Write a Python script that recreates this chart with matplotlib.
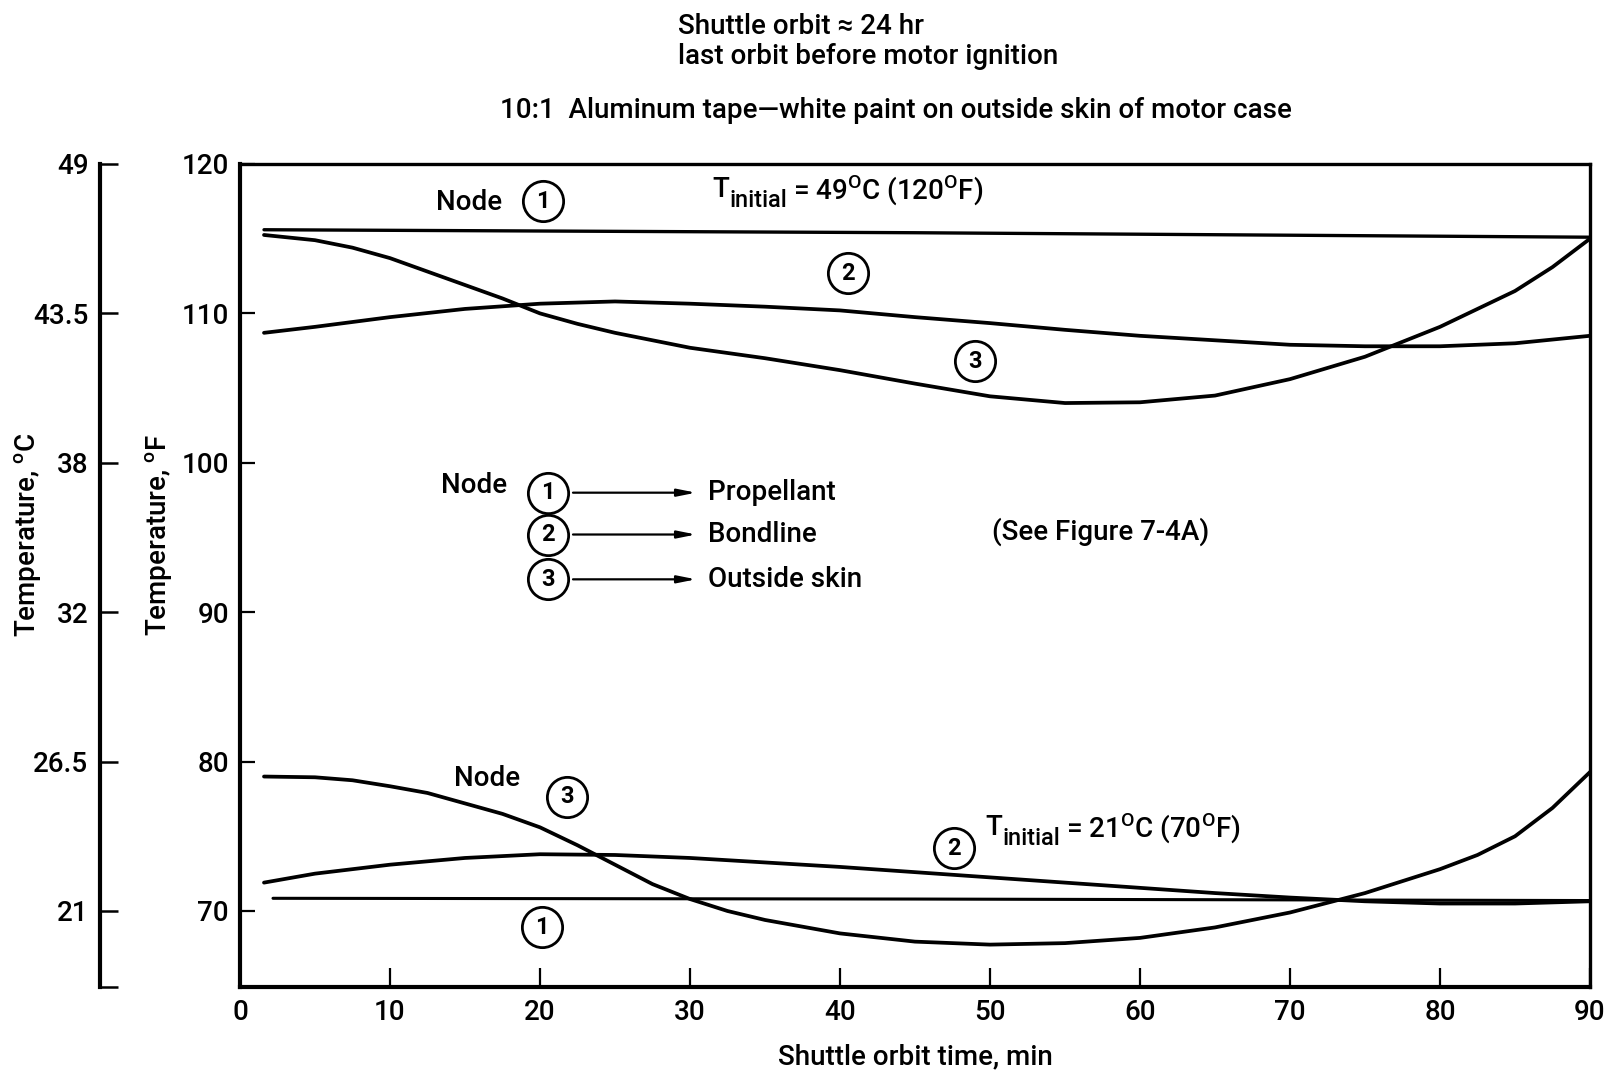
import matplotlib
matplotlib.use("Agg")
import matplotlib.pyplot as plt

plt.rcParams['font.family'] = ['Roboto', 'Liberation Sans', 'DejaVu Sans']
plt.rcParams['font.weight'] = 'medium'
plt.rcParams['axes.labelweight'] = 'medium'
plt.rcParams['mathtext.fontset'] = 'custom'
plt.rcParams['mathtext.rm'] = 'Roboto:medium'

# time axis (min) where curves were read
t_grid = [1.6, 5, 10, 15, 20, 25, 30, 35, 40, 45, 50, 55, 60, 65, 70, 75, 80, 85, 90]

# T_initial = 49 C (120 F)
hot_t1 = [1.6, 45, 90]
hot_node1 = [115.6, 115.4, 115.1]
hot_node2 = [108.7, 109.1, 109.75, 110.3, 110.65, 110.8, 110.65, 110.45, 110.2, 109.75,
             109.35, 108.9, 108.5, 108.2, 107.9, 107.8, 107.8, 108.0, 108.5]
hot_t3 = [1.6, 5, 7.5, 10, 12.5, 15, 17.5, 20, 22.5, 25, 30, 35, 40, 45, 50, 55, 60,
          65, 70, 75, 80, 85, 87.5, 90]
hot_node3 = [115.25, 114.9, 114.4, 113.7, 112.8, 111.9, 111.0, 110.0, 109.3, 108.7, 107.7,
             107.0, 106.2, 105.3, 104.45, 104.0, 104.05, 104.5, 105.6, 107.1, 109.1,
             111.5, 113.1, 115.0]

# T_initial = 21 C (70 F)
cold_t1 = [2.2, 45, 90]
cold_node1 = [70.85, 70.8, 70.7]
cold_node2 = [71.9, 72.5, 73.1, 73.55, 73.8, 73.75, 73.55, 73.25, 72.95, 72.6,
              72.25, 71.9, 71.55, 71.2, 70.9, 70.65, 70.5, 70.5, 70.65]
cold_t3 = [1.6, 5, 7.5, 10, 12.5, 15, 17.5, 20, 22.5, 25, 27.5, 30, 32.5, 35, 40, 45,
           50, 55, 60, 65, 70, 75, 80, 82.5, 85, 87.5, 90]
cold_node3 = [79.0, 78.95, 78.75, 78.35, 77.9, 77.2, 76.5, 75.6, 74.4, 73.1, 71.8,
              70.8, 70.0, 69.4, 68.5, 67.95, 67.75, 67.85, 68.2, 68.9, 69.9, 71.2,
              72.8, 73.75, 75.0, 76.9, 79.3]

x_ticks = [0, 10, 20, 30, 40, 50, 60, 70, 80, 90]
f_ticks = [70, 80, 90, 100, 110, 120]
c_labels = ['21', '26.5', '32', '38', '43.5', '49']
node_names = ['Propellant', 'Bondline', 'Outside skin']

FS = 20
W, H = 1609, 1070
fig = plt.figure(figsize=(W / 100, H / 100), dpi=100)

left, right, top, bottom = 240, 1590, 164, 987
rect = [left / W, 1 - bottom / H, (right - left) / W, (bottom - top) / H]
ax = fig.add_axes(rect)
ylo = 120 - (bottom - top) / 14.94

lw = 2.7
ax.plot(hot_t1, hot_node1, color='black', lw=2.4, solid_capstyle='round')
ax.plot(t_grid, hot_node2, color='black', lw=lw, solid_capstyle='round')
ax.plot(hot_t3, hot_node3, color='black', lw=lw, solid_capstyle='round')
ax.plot(cold_t1, cold_node1, color='black', lw=2.2, solid_capstyle='round')
ax.plot(t_grid, cold_node2, color='black', lw=lw, solid_capstyle='round')
ax.plot(cold_t3, cold_node3, color='black', lw=lw, solid_capstyle='round')

ax.set_xlim(0, 90)
ax.set_ylim(ylo, 120)
ax.set_xticks(x_ticks)
ax.set_yticks(f_ticks)
ax.tick_params(axis='both', direction='in', labelsize=FS, width=1.6, color='black')
ax.tick_params(axis='x', length=14, pad=9)
ax.tick_params(axis='y', length=11, pad=8)
for s in ['left', 'bottom']:
    ax.spines[s].set_linewidth(3.0)
for s in ['top', 'right']:
    ax.spines[s].set_linewidth(2.4)
ax.set_xlabel('Shuttle orbit time, min', fontsize=FS, fontweight='medium', labelpad=12)

# Celsius scale
axc = fig.add_axes([99.5 / W, rect[1], 0.0005, rect[3]])
axc.set_ylim(ylo, 120)
axc.set_xticks([])
axc.set_yticks(f_ticks + [ylo])
axc.set_yticklabels(c_labels + [''])
for s in ['top', 'right', 'bottom']:
    axc.spines[s].set_visible(False)
axc.spines['left'].set_linewidth(3.0)
axc.tick_params(axis='y', direction='in', length=13, width=1.8, pad=8, labelsize=FS)
axc.patch.set_alpha(0)

fig.text(159 / W, 0.50, 'Temperature, $^\\mathregular{o}$F', rotation=90,
         ha='center', va='center', fontsize=FS, fontweight='medium')
fig.text(28 / W, 0.50, 'Temperature, $^\\mathregular{o}$C', rotation=90,
         ha='center', va='center', fontsize=FS, fontweight='medium')

fig.text(678 / W, 1 - 26 / H, 'Shuttle orbit \u2248 24 hr', ha='left', va='center', fontsize=FS)
fig.text(678 / W, 1 - 56 / H, 'last orbit before motor ignition', ha='left', va='center', fontsize=FS)
fig.text(500 / W, 1 - 110 / H, '10:1  Aluminum tape\u2014white paint on outside skin of motor case',
         ha='left', va='center', fontsize=FS)


def circled(x, y, n):
    ax.plot([x], [y], marker='o', ms=29, mfc='white', mec='black', mew=2.0, zorder=5)
    ax.text(x, y, n, ha='center', va='center', fontsize=17, fontweight='bold', zorder=6)


def t_initial(x, y, rest):
    t = ax.text(x, y, 'T', ha='left', va='center', fontsize=FS)
    s = ax.annotate('initial', xy=(1, 0.1), xycoords=t, ha='left', va='center', fontsize=17)
    ax.annotate(rest, xy=(1, 0.5), xycoords=(s, t), xytext=(4, 0),
                textcoords='offset points', ha='left', va='center', fontsize=FS)


# upper group labels
ax.text(13.1, 117.4, 'Node', ha='left', va='center', fontsize=FS)
circled(20.2, 117.5, '1')
t_initial(31.5, 118.3, '= 49$^\\mathregular{O}$C (120$^\\mathregular{O}$F)')
circled(40.5, 112.7, '2')
circled(49.0, 106.8, '3')

# key
ax.text(13.4, 98.45, 'Node', ha='left', va='center', fontsize=FS)
key_y = [98.0, 95.2, 92.2]
for i, name in enumerate(node_names):
    circled(20.5, key_y[i], str(i + 1))
    ax.annotate('', xy=(30.4, key_y[i]), xytext=(22.2, key_y[i]),
                arrowprops=dict(arrowstyle='-|>,head_length=1.1,head_width=0.22',
                                color='black', lw=1.6, shrinkA=0, shrinkB=0))
    ax.text(31.2, key_y[i], name, ha='left', va='center', fontsize=FS)
ax.text(50.1, 95.4, '(See Figure 7-4A)', ha='left', va='center', fontsize=FS)

# lower group labels
ax.text(14.3, 78.9, 'Node', ha='left', va='center', fontsize=FS)
circled(21.8, 77.65, '3')
circled(47.6, 74.2, '2')
t_initial(49.7, 75.6, '= 21$^\\mathregular{O}$C (70$^\\mathregular{O}$F)')
circled(20.1, 68.9, '1')

fig.savefig('out.png', dpi=100)
